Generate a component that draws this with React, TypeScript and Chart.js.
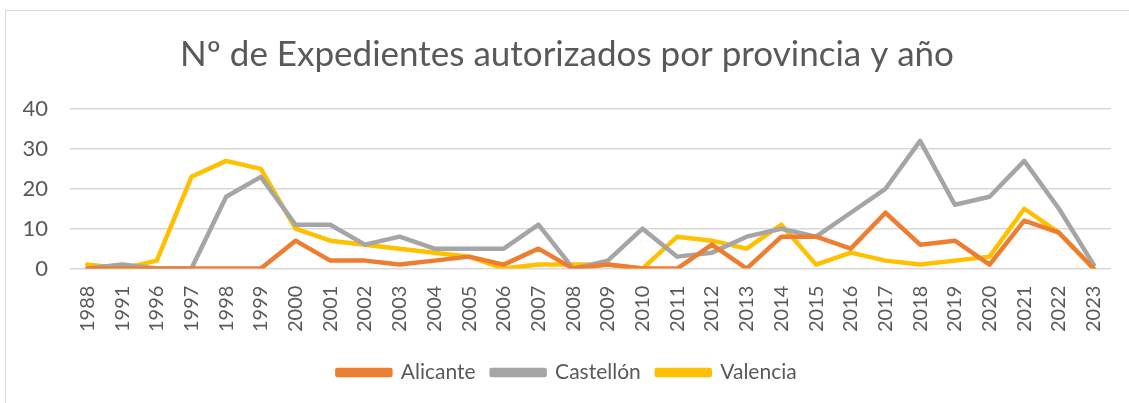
import React, { useEffect, useRef } from "react";
import { Chart, registerables } from "chart.js";

Chart.register(...registerables);

const years = [
  "1988", "1991", "1996", "1997", "1998", "1999", "2000", "2001", "2002", "2003",
  "2004", "2005", "2006", "2007", "2008", "2009", "2010", "2011", "2012", "2013",
  "2014", "2015", "2016", "2017", "2018", "2019", "2020", "2021", "2022", "2023",
];
const alicante = [0, 0, 0, 0, 0, 0, 7, 2, 2, 1, 2, 3, 1, 5, 0, 1, 0, 0, 6, 0, 8, 8, 5, 14, 6, 7, 1, 12, 9, 0];
const castellon = [0, 1, 0, 0, 18, 23, 11, 11, 6, 8, 5, 5, 5, 11, 0, 2, 10, 3, 4, 8, 10, 8, 14, 20, 32, 16, 18, 27, 15, 1];
const valencia = [1, 0, 2, 23, 27, 25, 10, 7, 6, 5, 4, 3, 0, 1, 1, 1, 0, 8, 7, 5, 11, 1, 4, 2, 1, 2, 3, 15, 9, 0];
const yTicks = [0, 10, 20, 30, 40];
const title = "Nº de Expedientes autorizados por provincia y año";

const FONT = "Lato";
const TEXT = "#595959";

export default function App() {
  const ref = useRef<HTMLCanvasElement | null>(null);
  useEffect(() => {
    document.body.style.margin = "0";
    if (!ref.current) return;
    const mk = (label: string, data: number[], color: string) => ({
      label,
      data,
      borderColor: color,
      backgroundColor: color,
      borderWidth: 4.5,
      pointRadius: 0,
      tension: 0,
      borderJoinStyle: "round" as const,
      borderCapStyle: "round" as const,
    });
    const chart = new Chart(ref.current, {
      type: "line",
      data: {
        labels: years,
        datasets: [
          mk("Alicante", alicante, "#ED7D31"),
          mk("Castellón", castellon, "#A5A5A5"),
          mk("Valencia", valencia, "#FFC000"),
        ],
      },
      options: {
        animation: false,
        responsive: false,
        maintainAspectRatio: false,
        layout: { padding: { left: 5, right: 0, top: 0, bottom: 10 } },
        plugins: {
          title: {
            display: true,
            text: title,
            color: TEXT,
            font: { family: FONT, size: 35, weight: "normal" },
            padding: { top: 34, bottom: 33 },
          },
          legend: {
            position: "bottom",
            labels: {
              color: TEXT,
              font: { family: FONT, size: 21 },
              boxWidth: 53,
              boxHeight: 5,
              padding: 16,
            },
          },
          tooltip: { enabled: false },
        },
        scales: {
          x: {
            offset: true,
            grid: { display: false },
            border: { display: false },
            afterFit: (s: any) => {
              s.height = s.height + 5;
            },
            ticks: {
              color: TEXT,
              font: { family: FONT, size: 20 },
              minRotation: 90,
              maxRotation: 90,
              autoSkip: false,
              padding: 9,
            },
          },
          y: {
            min: 0,
            max: 40,
            afterFit: (s: any) => {
              s.width = 65;
            },
            afterBuildTicks: (s: any) => {
              s.ticks = yTicks.map((v) => ({ value: v }));
            },
            grid: { color: "#D9D9D9", lineWidth: 1.5, drawTicks: false },
            border: { display: false },
            ticks: {
              color: TEXT,
              font: { family: FONT, size: 22 },
              padding: 22,
            },
          },
          yr: {
            position: "right",
            display: true,
            grid: { display: false },
            border: { display: false },
            ticks: { display: false },
            afterFit: (s: any) => {
              s.width = 18;
            },
          },
        },
      },
    });
    return () => chart.destroy();
  }, []);
  return (
    <div style={{ position: "absolute", left: 0, top: 0, width: 1129, height: 403, overflow: "hidden", background: "#fff" }}>
      <div
        style={{
          position: "absolute",
          left: 5,
          top: 10,
          width: 1300,
          height: 600,
          border: "1.5px solid #D9D9D9",
        }}
      />
      <canvas ref={ref} width={1129} height={403} style={{ position: "absolute", left: 0, top: 0 }} />
    </div>
  );
}
